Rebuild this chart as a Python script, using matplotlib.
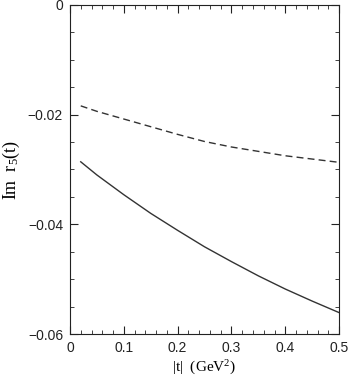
import numpy as np
import matplotlib
matplotlib.use("Agg")
import matplotlib.pyplot as plt
from matplotlib.ticker import MultipleLocator

# values
t_vals = [0.02, 0.05, 0.1, 0.15, 0.2, 0.25, 0.3, 0.35, 0.4, 0.45, 0.5]
im_r5_solid = [-0.0286, -0.0310, -0.0346, -0.0380, -0.0411, -0.0441,
               -0.0468, -0.0494, -0.0518, -0.0540, -0.0561]
im_r5_dashed = [-0.0184, -0.0194, -0.0208, -0.0222, -0.0236, -0.0249,
                -0.0259, -0.0267, -0.0275, -0.0281, -0.0287]
x_ticks = [0, 0.1, 0.2, 0.3, 0.4, 0.5]
x_ticklabels = ["0", "0.1", "0.2", "0.3", "0.4", "0.5"]
y_ticks = [-0.06, -0.04, -0.02, 0]
y_ticklabels = ["\u22120.06", "\u22120.04", "\u22120.02", "0"]

plt.rcParams["mathtext.fontset"] = "custom"
plt.rcParams["mathtext.rm"] = "Liberation Serif"
plt.rcParams["mathtext.it"] = "Liberation Serif:italic"

fig = plt.figure(figsize=(3.57, 3.8), dpi=100)
ax = fig.add_axes([0.196, 0.121, 0.754, 0.866])

ax.plot(t_vals, im_r5_solid, color="#333333", lw=1.0)
ax.plot(t_vals, im_r5_dashed, color="#333333", lw=1.0, dashes=(5, 3))

ax.set_xlim(0, 0.5)
ax.set_ylim(-0.06, 0)
ax.set_xticks(x_ticks)
ax.set_xticklabels(x_ticklabels, family="Liberation Sans")
ax.set_yticks(y_ticks)
ax.set_yticklabels(y_ticklabels, family="Liberation Sans")
ax.xaxis.set_minor_locator(MultipleLocator(0.02))
ax.yaxis.set_minor_locator(MultipleLocator(0.005))
ax.tick_params(which="both", direction="in", top=True, right=True,
               colors="#222222", labelsize=10)
ax.tick_params(which="major", length=6, pad=5)
ax.tick_params(which="minor", length=3)
for s in ax.spines.values():
    s.set_color("#222222")

ax.set_xlabel("|t|  (GeV$^\\mathrm{2}$)", family="Liberation Serif", fontsize=11, labelpad=3)
ax.set_ylabel("Im  r$_\\mathrm{5}$(t)", family="Liberation Serif", fontsize=13, labelpad=4)

fig.savefig("out.png", dpi=100)
